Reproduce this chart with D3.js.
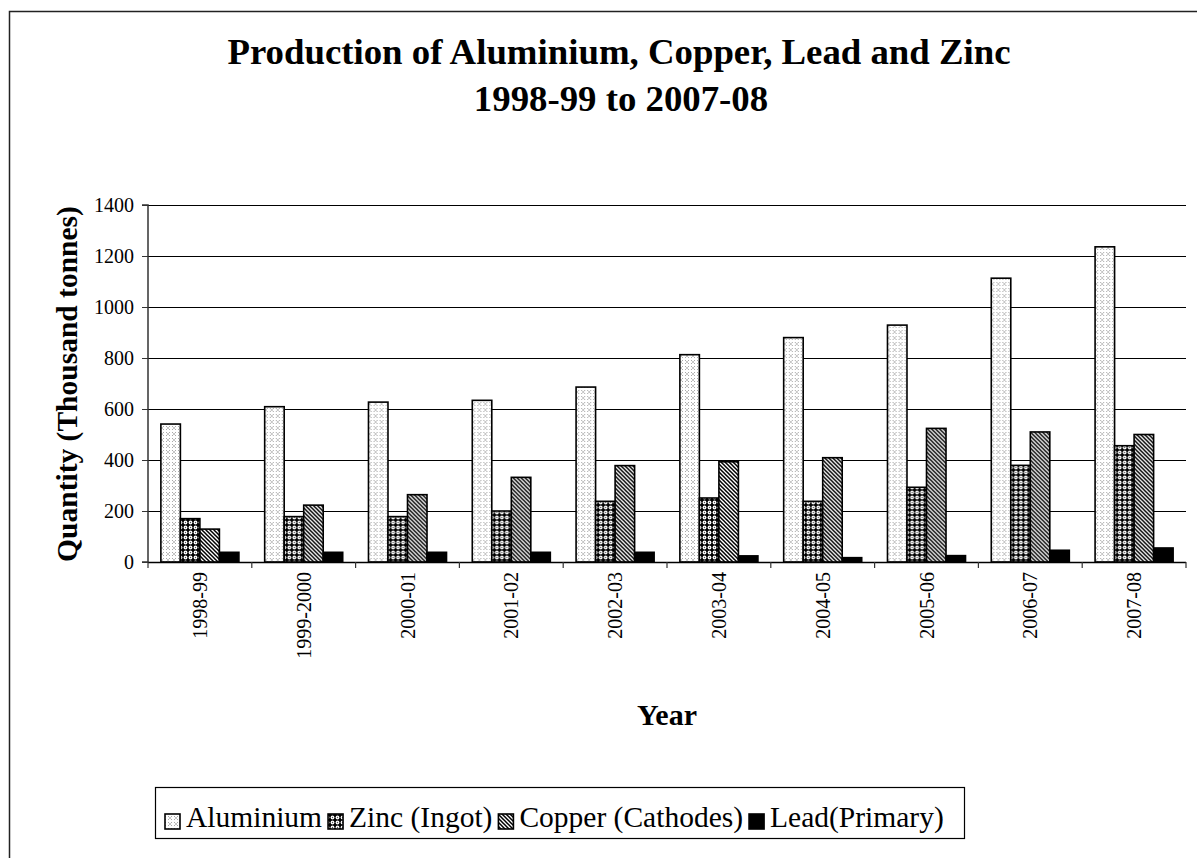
<!DOCTYPE html>
<html><head><meta charset="utf-8">
<script src="https://cdn.jsdelivr.net/npm/d3@7/dist/d3.min.js"></script>
<style>html,body{margin:0;padding:0;background:#fff;}svg{display:block;} svg text{font-family:"Liberation Serif","Times New Roman",Times,serif;}</style>
</head><body>
<svg id="chart" width="1197" height="858"></svg>
<script>
const years = ["1998-99","1999-2000","2000-01","2001-02","2002-03","2003-04","2004-05","2005-06","2006-07","2007-08"];
const seriesNames = ["Aluminium","Zinc (Ingot)","Copper (Cathodes)","Lead(Primary)"];
const aluminium = [541,609,627,634,686,813,880,929,1113,1236];
const zinc = [170,178,178,200,238,251,238,293,379,456];
const copper = [129,223,264,332,378,393,409,524,510,500];
const lead = [38,38,38,38,38,24,17,25,46,55];
const yTicks = [0,200,400,600,800,1000,1200,1400];

const seriesValues = [aluminium, zinc, copper, lead];
const fills = ["url(#pAl)","url(#pZn)","url(#pCu)","#000"];

const svg = d3.select("#chart");

// patterns
const defs = svg.append("defs");
const pAl = defs.append("pattern").attr("id","pAl").attr("patternUnits","userSpaceOnUse").attr("width",6).attr("height",6);
pAl.append("rect").attr("width",6).attr("height",6).attr("fill","#fff");
[[0,0],[3,0],[0,3],[3,3],[1.5,1.5]].forEach(([px,py],i)=>{
  pAl.append("rect").attr("x",px).attr("y",py).attr("width",1).attr("height",1).attr("fill", i===4?"#222":"#aaa");
});

const pZn = defs.append("pattern").attr("id","pZn").attr("patternUnits","userSpaceOnUse").attr("width",5).attr("height",5);
pZn.append("rect").attr("width",5).attr("height",5).attr("fill","#000");
pZn.append("circle").attr("cx",2.5).attr("cy",2.5).attr("r",1.9).attr("fill","#fff");
pZn.append("circle").attr("cx",2.5).attr("cy",2.5).attr("r",0.7).attr("fill","#555");

const pCu = defs.append("pattern").attr("id","pCu").attr("patternUnits","userSpaceOnUse").attr("width",4).attr("height",4);
pCu.append("rect").attr("width",4).attr("height",4).attr("fill","#fff");
pCu.append("path").attr("d","M-1,-1 L5,5 M-1,3 L1,5 M3,-1 L5,1").attr("stroke","#000").attr("stroke-width",1.5);

// outer frame
svg.append("path").attr("d","M9.5,858 L9.5,11.5 L1197,11.5").attr("fill","none").attr("stroke","#222").attr("stroke-width",1.5);

const pLeft = 148, pRight = 1186, pTop = 205, pBottom = 562;

const x = d3.scaleBand().domain(years).range([pLeft,pRight]).paddingInner(0).paddingOuter(0);
const x1 = d3.scaleBand().domain(seriesNames).range([0,x.bandwidth()]).paddingInner(0).paddingOuter(0.66);
const y = d3.scaleLinear().domain([0,1400]).range([pBottom,pTop]);

// gridlines
svg.append("g").selectAll("line").data(yTicks.filter(d=>d>0)).join("line")
  .attr("x1",pLeft).attr("x2",pRight)
  .attr("y1",d=>Math.round(y(d))+0.5).attr("y2",d=>Math.round(y(d))+0.5)
  .attr("stroke","#000").attr("stroke-width",1);

// bars
const groups = svg.append("g").selectAll("g").data(years).join("g")
  .attr("transform",d=>`translate(${x(d)},0)`);
groups.selectAll("rect").data((d,i)=>seriesNames.map((s,k)=>({s,k,v:seriesValues[k][i]}))).join("rect")
  .attr("x",d=>x1(d.s)).attr("width",x1.bandwidth())
  .attr("y",d=>y(d.v)).attr("height",d=>y(0)-y(d.v))
  .attr("fill",(d)=>fills[d.k]).attr("stroke","#000").attr("stroke-width",1.6);

// y axis
const yAxis = d3.axisLeft(y).tickValues(yTicks).tickFormat(d3.format("d")).tickSize(6).tickPadding(8);
const gy = svg.append("g").attr("transform",`translate(${pLeft},0)`).call(yAxis);
gy.attr("font-family",null).attr("font-size",null);
gy.select(".domain").attr("stroke","#333").attr("stroke-width",1.5).attr("d",`M-6,${pTop}H0V${pBottom}H-6`);
gy.selectAll(".tick line").attr("stroke","#333");
gy.selectAll("text").style("font-size","20px").attr("fill","#000");

// x axis
const gx = svg.append("g").attr("transform",`translate(0,${pBottom})`);
gx.append("line").attr("x1",pLeft).attr("x2",pRight).attr("y1",0.5).attr("y2",0.5).attr("stroke","#000").attr("stroke-width",1.5);
gx.selectAll("line.tk").data(years.map(d=>x(d)).concat([pRight])).join("line").attr("class","tk")
  .attr("x1",d=>d).attr("x2",d=>d).attr("y1",0).attr("y2",6).attr("stroke","#333").attr("stroke-width",1.2);
gx.selectAll("text").data(years).join("text")
  .attr("transform",d=>`translate(${x(d)+x.bandwidth()/2+7},10) rotate(-90)`)
  .attr("text-anchor","end").style("font-size","20px").text(d=>d);

// titles
svg.append("text").attr("x",619).attr("y",64).attr("text-anchor","middle")
  .style("font-weight","bold").style("font-size","36.8px").text("Production of Aluminium, Copper, Lead and Zinc");
svg.append("text").attr("x",621).attr("y",111).attr("text-anchor","middle")
  .style("font-weight","bold").style("font-size","36.8px").text("1998-99 to 2007-08");

svg.append("text").attr("transform","translate(77,384) rotate(-90)").attr("text-anchor","middle")
  .style("font-weight","bold").style("font-size","29.5px").text("Quantity (Thousand tonnes)");
svg.append("text").attr("x",667).attr("y",725).attr("text-anchor","middle")
  .style("font-weight","bold").style("font-size","30px").text("Year");

// legend
const lg = svg.append("g");
lg.append("rect").attr("x",155.5).attr("y",787.5).attr("width",809).attr("height",51)
  .attr("fill","#fff").attr("stroke","#000").attr("stroke-width",1.2);
let cx = 165;
seriesNames.forEach((s,k)=>{
  lg.append("rect").attr("x",cx).attr("y",814).attr("width",15).attr("height",15)
    .attr("fill",fills[k]).attr("stroke","#000").attr("stroke-width",1.6);
  const t = lg.append("text").attr("x",cx+21).attr("y",827).style("font-size","29.5px").text(s);
  cx += 21 + t.node().getComputedTextLength() + 6;
});
</script>
</body></html>
